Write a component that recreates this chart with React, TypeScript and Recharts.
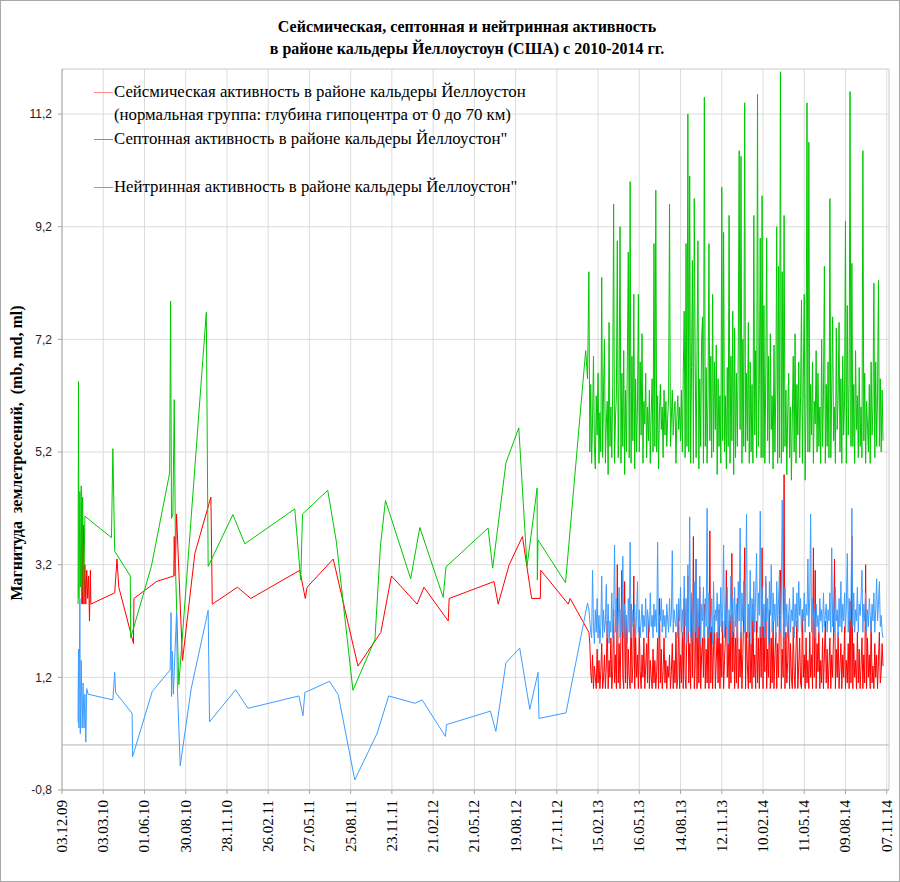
import React from "react";
import { LineChart, Line, XAxis, YAxis, CartesianGrid, ReferenceLine } from "recharts";

// day 0 = 03.12.09, one label every 90 days
const DATE_LABELS = [
  "03.12.09", "03.03.10", "01.06.10", "30.08.10", "28.11.10", "26.02.11", "27.05.11",
  "25.08.11", "23.11.11", "21.02.12", "21.05.12", "19.08.12", "17.11.12", "15.02.13",
  "16.05.13", "14.08.13", "12.11.13", "10.02.14", "11.05.14", "09.08.14", "07.11.14",
];
const X_TICKS = DATE_LABELS.map((_, i) => i * 90);
const Y_TICKS = [-0.8, 1.2, 3.2, 5.2, 7.2, 9.2, 11.2];

// observations from 2013 on, one value every 2 days
const DENSE_START = 1150;
const DENSE_STEP = 2;

// [day, magnitude] before the dense period
const seismicSparse: [number, number][] = [
  [43, 2.5], [44, 4.3], [45, 2.5], [47, 3.9], [48, 2.5], [50, 3.2], [52, 2.5], [54, 3.1],
  [56, 2.6], [58, 3.0], [60, 2.2], [62, 3.1], [63, 2.5], [115, 2.7], [120, 3.3], [124, 2.8],
  [156, 1.8], [157, 2.6], [206, 2.9], [244, 3.0], [245, 3.7], [247, 3.0], [250, 4.1],
  [263, 1.5], [290, 3.4], [325, 4.4], [328, 2.5], [383, 2.8], [412, 2.6], [519, 3.1],
  [531, 2.6], [535, 2.8], [592, 3.3], [646, 1.4], [696, 2.0], [719, 3.0], [775, 2.5],
  [790, 2.8], [843, 2.2], [845, 2.6], [943, 2.9], [952, 2.5], [976, 3.2], [1005, 3.7],
  [1025, 2.6], [1044, 2.6], [1045, 3.1], [1105, 2.5], [1109, 2.6],
];

const septonSparse: [number, number][] = [
  [35, 2.5], [36, 6.45], [37, 2.6], [39, 4.5], [40, 2.8], [42, 4.6], [43, 2.7], [45, 4.4],
  [47, 2.6], [50, 4.06], [108, 3.68], [111, 5.26], [115, 3.44], [149, 3.0], [150, 1.9],
  [195, 3.17], [235, 4.83], [237, 7.88], [239, 4.02], [242, 4.1], [245, 6.13], [248, 3.06],
  [255, 1.07], [315, 7.68], [319, 3.17], [373, 4.09], [399, 3.57], [508, 4.19], [521, 2.93],
  [525, 4.1], [580, 4.52], [599, 3.6], [635, 0.97], [683, 1.87], [695, 3.53], [706, 4.34],
  [761, 2.95], [781, 3.86], [832, 2.62], [838, 3.16], [930, 3.85], [940, 3.14], [969, 5.01],
  [997, 5.63], [1015, 3.17], [1037, 4.56], [1037.5, 2.93], [1039, 3.64], [1099, 2.88],
  [1143, 7.0], [1147, 6.5],
];

const neutrinoSparse: [number, number][] = [
  [35, 0.4], [36, 1.7], [37, 0.3], [39, 2.6], [40, 0.2], [42, 1.5], [44, 0.3], [46, 1.1],
  [48, 0.3], [50, 0.9], [52, 0.05], [54, 1.0], [57, 0.9], [111, 0.8], [115, 1.29], [117, 0.93],
  [153, 0.56], [154, -0.21], [197, 0.95], [236, 1.33], [238, 2.35], [239, 0.86], [241, 1.66],
  [243, 0.9], [250, 2.35], [252, 0.98], [258, -0.37], [282, 1.0], [319, 2.39], [322, 0.41],
  [379, 0.98], [406, 0.65], [517, 0.87], [526, 0.52], [530, 0.93], [584, 1.13], [603, 0.89],
  [639, -0.62], [688, 0.21], [713, 0.87], [770, 0.74], [786, 0.8], [837, 0.15], [839, 0.36],
  [935, 0.6], [947, 0.24], [969, 1.46], [999, 1.72], [1021, 0.63], [1039, 1.29], [1041, 0.47],
  [1100, 0.57], [1147, 2.52],
];

const seismicDense = [
  2.0, 1.8, 1.3, 1.1, 1.6, 1.0, 1.4, 1.2, 1.0, 1.7,
  1.1, 1.5, 1.0, 1.3, 1.8, 1.0, 1.2, 1.6, 1.0, 1.4,
  2.2, 1.0, 1.5, 1.2, 1.9, 1.0, 1.3, 2.4, 1.1, 1.6,
  1.0, 3.2, 1.1, 1.8, 1.0, 2.0, 3.1, 1.2, 1.0, 2.9,
  1.1, 2.3, 1.0, 1.7, 1.2, 1.0, 2.5, 1.1, 1.4, 3.0,
  1.0, 1.9, 1.2, 1.6, 1.0, 2.1, 1.3, 1.0, 1.6, 1.2,
  1.9, 1.0, 1.4, 1.8, 1.1, 2.2, 1.0, 1.5, 1.2, 1.0,
  1.7, 1.1, 1.5, 1.0, 1.3, 1.9, 1.0, 2.6, 1.1, 1.7,
  1.0, 1.3, 1.9, 1.1, 1.5, 1.0, 1.4, 1.2, 1.6, 1.0,
  1.3, 1.8, 1.0, 1.5, 1.1, 2.0, 1.0, 1.2, 2.4, 1.0,
  1.6, 1.1, 2.0, 1.0, 2.6, 1.2, 1.0, 2.2, 3.0, 1.1,
  1.8, 1.0, 2.6, 1.2, 3.7, 1.0, 1.4, 3.3, 1.0, 2.2,
  1.1, 2.8, 1.0, 1.6, 1.9, 1.2, 2.5, 1.0, 1.7, 1.1,
  2.1, 1.0, 3.8, 1.1, 2.1, 1.0, 1.7, 2.3, 1.0, 1.5,
  2.0, 1.1, 2.4, 1.0, 1.8, 1.2, 2.2, 1.0, 1.5, 1.9,
  3.1, 1.2, 1.8, 1.0, 2.3, 1.1, 3.4, 1.3, 2.2, 1.0,
  1.9, 1.1, 2.6, 1.0, 1.7, 1.2, 2.0, 1.0, 1.6, 2.4,
  3.5, 1.0, 2.0, 1.4, 1.0, 2.3, 1.1, 1.8, 1.0, 2.5,
  1.2, 1.6, 1.0, 2.2, 1.1, 1.9, 1.0, 2.1, 1.2, 3.5,
  1.0, 2.1, 1.3, 2.9, 1.0, 1.7, 1.2, 2.4, 1.0, 1.9,
  1.1, 2.2, 1.0, 1.6, 2.0, 1.0, 1.8, 1.2, 2.3, 3.1,
  1.0, 1.7, 1.2, 4.8, 1.0, 2.0, 1.1, 1.5, 2.3, 1.0,
  1.8, 1.2, 1.0, 2.1, 1.3, 1.0, 1.7, 2.2, 1.0, 1.4,
  1.9, 1.1, 1.0, 2.4, 1.2, 1.6, 1.0, 1.9, 1.1, 1.5,
  1.0, 2.0, 1.2, 1.6, 1.0, 3.5, 1.2, 3.1, 1.0, 1.8,
  1.3, 2.0, 1.0, 1.5, 1.1, 1.9, 1.0, 1.6, 2.2, 1.1,
  1.7, 1.0, 1.4, 1.9, 1.0, 1.6, 1.2, 2.0, 3.3, 1.0,
  1.7, 1.2, 2.0, 1.0, 1.4, 1.8, 1.0, 1.6, 1.2, 2.1,
  1.0, 1.5, 1.1, 1.8, 1.0, 2.55, 1.1, 3.7, 1.0, 1.8,
  1.2, 1.5, 1.0, 2.0, 1.1, 1.7, 1.0, 1.4, 1.9, 1.0,
  1.6, 1.1, 3.2, 1.0, 1.9, 1.2, 1.6, 1.0, 2.2, 1.1,
  1.4, 1.0, 1.8, 1.2, 1.6, 1.0, 1.5, 2.0, 1.1, 1.3,
  1.8, 1.4,
];

const septonDense = [
  8.4, 5.2, 6.4, 5.0, 5.8, 6.9, 5.3, 4.9, 6.2, 5.5,
  6.6, 5.0, 5.9, 5.2, 8.3, 5.1, 6.3, 7.2, 5.0, 5.7,
  6.1, 4.8, 7.5, 5.3, 6.0, 5.1, 6.4, 9.6, 5.0, 5.8,
  6.2, 8.95, 5.1, 6.5, 9.2, 5.0, 6.6, 5.3, 7.0, 4.8,
  6.3, 5.2, 6.9, 8.75, 5.1, 10.0, 5.0, 6.9, 5.4, 8.0,
  4.9, 6.5, 5.2, 6.0, 8.0, 5.2, 6.8, 5.5, 7.3, 5.0,
  6.1, 5.7, 6.6, 5.1, 6.0, 5.4, 6.3, 5.0, 5.9, 6.5,
  5.2, 8.9, 5.3, 9.85, 5.2, 6.2, 4.9, 5.9, 6.4, 5.6,
  6.0, 5.1, 6.3, 5.5, 6.1, 5.3, 5.8, 6.2, 9.6, 5.3,
  5.8, 6.3, 5.5, 5.9, 6.1, 5.0, 5.8, 6.2, 5.6, 6.0,
  5.4, 6.3, 5.2, 6.6, 7.7, 5.1, 8.9, 5.3, 11.2, 5.2,
  10.1, 5.0, 6.7, 8.6, 5.0, 9.7, 6.8, 5.1, 7.0, 8.95,
  4.9, 6.5, 5.3, 7.2, 7.6, 5.0, 11.5, 5.3, 6.7, 5.0,
  6.2, 8.9, 5.4, 6.9, 5.1, 8.0, 5.2, 6.8, 5.6, 7.1,
  4.8, 6.5, 5.3, 6.2, 5.0, 9.9, 5.4, 9.1, 5.2, 6.2,
  4.9, 6.7, 5.3, 9.4, 5.0, 6.9, 5.4, 7.7, 4.8, 7.4,
  5.1, 6.6, 5.3, 7.0, 10.55, 5.6, 10.45, 5.0, 7.2, 5.3,
  11.4, 5.2, 6.6, 5.4, 7.5, 5.0, 6.8, 5.2, 6.4, 5.0,
  9.4, 5.5, 7.0, 5.1, 11.55, 5.3, 6.4, 9.0, 5.1, 9.75,
  5.1, 7.8, 5.0, 6.5, 9.0, 5.4, 6.9, 5.0, 7.3, 5.6,
  6.2, 4.9, 7.1, 5.2, 6.3, 9.2, 5.0, 8.5, 5.1, 11.95,
  5.0, 8.4, 5.2, 9.4, 5.3, 6.3, 4.8, 5.9, 6.6, 5.1,
  6.0, 4.7, 5.8, 6.9, 5.2, 7.3, 5.0, 6.4, 5.5, 6.8,
  5.1, 6.2, 7.9, 5.0, 6.5, 8.0, 4.7, 6.1, 11.4, 5.2,
  10.7, 5.2, 6.4, 5.5, 6.8, 5.0, 6.1, 5.7, 7.0, 5.2,
  6.6, 5.3, 6.0, 5.0, 7.2, 5.3, 6.2, 8.5, 5.0, 6.4,
  5.3, 6.8, 5.1, 9.7, 5.1, 6.3, 7.6, 5.4, 6.0, 5.0,
  7.4, 5.6, 6.2, 7.5, 5.2, 6.5, 5.0, 6.9, 5.5, 6.1,
  9.3, 5.0, 7.8, 5.5, 6.4, 11.6, 5.3, 8.55, 5.3, 6.4,
  5.0, 7.0, 5.6, 6.2, 5.1, 6.7, 5.3, 6.0, 5.1, 10.55,
  5.4, 6.6, 5.0, 6.1, 5.7, 5.2, 6.4, 5.0, 6.8, 5.5,
  6.0, 8.2, 5.1, 6.8, 5.3, 6.2, 8.25, 5.3, 6.5, 5.2,
  6.3, 5.4,
];

const neutrinoDense = [
  2.4, 2.2, 2.0, 1.9, 3.1, 2.1, 1.8, 2.4, 2.0, 2.6,
  1.9, 2.3, 1.8, 2.1, 3.0, 1.9, 2.4, 2.0, 2.2, 2.85,
  1.9, 2.5, 1.8, 2.2, 2.0, 2.7, 1.9, 2.3, 3.55, 2.0,
  2.6, 1.8, 2.2, 2.8, 1.9, 2.4, 2.0, 3.35, 1.9, 2.5,
  2.0, 2.3, 1.8, 2.6, 2.0, 3.6, 1.9, 2.4, 2.1, 2.2,
  2.5, 1.9, 2.3, 2.9, 2.0, 2.4, 1.9, 2.2, 2.5, 2.0,
  2.3, 2.1, 2.6, 1.9, 2.4, 2.2, 2.0, 2.7, 2.1, 2.3,
  1.9, 2.5, 2.1, 2.4, 2.0, 3.6, 1.9, 2.3, 2.2, 2.6,
  2.0, 2.4, 2.1, 2.3, 1.9, 2.5, 2.2, 2.0, 2.6, 2.1,
  2.3, 3.45, 2.0, 2.4, 2.2, 2.1, 2.5, 1.9, 2.6, 2.2,
  2.8, 2.0, 2.4, 1.9, 3.0, 2.1, 2.6, 1.8, 3.2, 2.0,
  4.05, 1.9, 2.7, 2.2, 1.8, 2.9, 2.0, 3.3, 1.9, 2.6,
  2.1, 3.0, 1.8, 2.5, 2.2, 2.8, 1.9, 2.6, 2.1, 4.2,
  1.9, 2.7, 2.2, 2.0, 2.6, 1.8, 2.9, 2.0, 2.4, 2.2,
  2.7, 1.9, 2.5, 2.1, 2.8, 2.0, 2.4, 3.55, 1.9, 2.5,
  2.1, 2.8, 1.8, 2.4, 2.2, 3.0, 1.9, 2.6, 2.0, 2.8,
  2.1, 2.5, 1.9, 2.9, 2.2, 3.85, 1.9, 2.7, 2.2, 2.9,
  2.0, 2.6, 4.1, 1.9, 2.5, 2.0, 3.1, 1.8, 2.6, 2.2,
  2.9, 2.0, 2.7, 3.4, 2.0, 2.7, 2.3, 4.15, 1.9, 2.8,
  2.1, 2.5, 1.9, 3.0, 2.2, 2.6, 1.8, 2.9, 2.3, 3.2,
  2.0, 2.7, 2.2, 2.5, 1.9, 2.9, 2.1, 2.6, 3.1, 2.0,
  2.6, 4.35, 2.4, 1.9, 2.8, 2.1, 2.5, 1.9, 2.3, 2.6,
  2.0, 2.4, 2.2, 2.8, 1.9, 2.5, 2.1, 2.7, 2.0, 2.9,
  2.3, 2.6, 2.0, 2.4, 2.2, 2.7, 2.0, 2.5, 2.3, 3.3,
  2.1, 2.6, 4.1, 2.0, 2.6, 2.2, 2.4, 1.9, 2.5, 2.1,
  2.3, 2.0, 2.6, 2.2, 2.4, 2.0, 2.7, 2.1, 2.3, 2.5,
  2.0, 2.4, 2.2, 2.7, 2.0, 3.5, 2.1, 2.5, 2.0, 2.8,
  2.2, 2.4, 1.9, 2.6, 2.1, 2.9, 2.0, 2.5, 2.2, 2.7,
  2.0, 2.5, 3.4, 2.0, 2.6, 2.2, 2.5, 4.2, 2.1, 2.7,
  2.0, 2.4, 2.2, 2.8, 2.0, 2.5, 2.3, 2.6, 3.1, 2.0,
  2.5, 2.2, 2.7, 2.0, 2.4, 2.1, 2.6, 2.3, 2.0, 2.5,
  2.2, 2.7, 2.0, 2.4, 2.95, 2.2, 2.5, 2.9, 2.1, 2.3,
  2.0, 1.9,
];

const SERIES = [
  {
    name: "Сейсмическая активность в районе кальдеры Йеллоустон",
    sub: "(нормальная группа: глубина гипоцентра от 0 до 70 км)",
    color: "#ff0000",
    legendColor: "#ff8a8a",
    sparse: seismicSparse,
    dense: seismicDense,
  },
  {
    name: "Септонная активность в районе кальдеры Йеллоустон\"",
    sub: "",
    color: "#00c800",
    legendColor: "#33cc33",
    sparse: septonSparse,
    dense: septonDense,
  },
  {
    name: "Нейтринная активность в районе кальдеры Йеллоустон\"",
    sub: "",
    color: "#3d9cff",
    legendColor: "#5aaaff",
    sparse: neutrinoSparse,
    dense: neutrinoDense,
  },
];

function buildPoints(sparse: [number, number][], dense: number[]) {
  const pts = sparse.map(([d, v]) => ({ d, v }));
  dense.forEach((v, i) => pts.push({ d: DENSE_START + i * DENSE_STEP, v }));
  return pts;
}

const SERIF = "'Liberation Serif', 'Times New Roman', serif";

const DateTick = ({ x, y, payload }: any) => (
  <text
    x={0}
    y={0}
    transform={`translate(${x + 5},${y + 6}) rotate(-90)`}
    textAnchor="end"
    fontFamily={SERIF}
    fontSize={15}
    fill="#000"
  >
    {DATE_LABELS[Math.round(payload.value / 90)]}
  </text>
);

const legendRows = [
  { color: SERIES[0].legendColor, text: SERIES[0].name, top: 80 },
  { color: "", text: SERIES[0].sub, top: 103 },
  { color: SERIES[1].legendColor, text: SERIES[1].name, top: 127 },
  { color: SERIES[2].legendColor, text: SERIES[2].name, top: 175 },
];

export default function App() {
  return (
    <div
      style={{
        position: "absolute",
        left: 0,
        top: 0,
        width: 900,
        height: 882,
        boxSizing: "border-box",
        border: "1px solid #a8a8a8",
        background: "#fff",
        fontFamily: SERIF,
      }}
    >
      <div
        style={{
          position: "absolute",
          left: 0,
          width: 932,
          top: 15,
          textAlign: "center",
          fontWeight: "bold",
          fontSize: 16,
          lineHeight: "22px",
          color: "#000",
        }}
      >
        Сейсмическая, септонная и нейтринная активность
        <br />
        в районе кальдеры Йеллоустоун (США) с 2010-2014 гг.
      </div>

      <div
        style={{
          position: "absolute",
          left: 16,
          top: 452,
          transform: "translate(-50%, -50%) rotate(-90deg)",
          whiteSpace: "nowrap",
          fontWeight: "bold",
          fontSize: 16,
          color: "#000",
        }}
      >
        Магнитуда&nbsp; землетресений,&nbsp; (mb, md, ml)
      </div>

      <div style={{ position: "absolute", left: -1, top: -1 }}>
        <LineChart width={900} height={882} margin={{ top: 69, right: 11, bottom: 0, left: 0 }}>
          <CartesianGrid stroke="#dcdcdc" strokeWidth={1} />
          <XAxis
            type="number"
            dataKey="d"
            domain={[0, 1805]}
            ticks={X_TICKS}
            allowDataOverflow
            height={92}
            tick={<DateTick />}
            tickSize={4}
            tickMargin={0}
            axisLine={{ stroke: "#a6a6a6" }}
            tickLine={{ stroke: "#a6a6a6" }}
            interval={0}
          />
          <YAxis
            type="number"
            domain={[-0.8, 12]}
            ticks={Y_TICKS}
            allowDataOverflow
            width={62}
            tickSize={4}
            tickMargin={6}
            tickFormatter={(v: number) => v.toFixed(1).replace(".", ",")}
            tick={{ fontFamily: "'Liberation Sans', Arial, sans-serif", fontSize: 12, fill: "#222" }}
            axisLine={{ stroke: "#a6a6a6" }}
            tickLine={{ stroke: "#a6a6a6" }}
          />
          <ReferenceLine y={0} stroke="#b4b4b4" />
          <ReferenceLine y={12} stroke="#dcdcdc" />
          <ReferenceLine x={1805} stroke="#dcdcdc" />
          {SERIES.map((s) => (
            <Line
              key={s.name}
              data={buildPoints(s.sparse, s.dense)}
              dataKey="v"
              type="linear"
              stroke={s.color}
              strokeWidth={1}
              dot={false}
              activeDot={false}
              isAnimationActive={false}
            />
          ))}
        </LineChart>
      </div>

      {legendRows.map((r, i) => (
        <div
          key={i}
          style={{
            position: "absolute",
            left: 93,
            top: r.top,
            height: 22,
            display: "flex",
            alignItems: "center",
            fontSize: 16.8,
            color: "#000",
            whiteSpace: "nowrap",
          }}
        >
          <span
            style={{
              display: "inline-block",
              width: 19,
              height: 1,
              marginRight: 1,
              background: r.color || "transparent",
            }}
          />
          {r.text}
        </div>
      ))}
    </div>
  );
}
